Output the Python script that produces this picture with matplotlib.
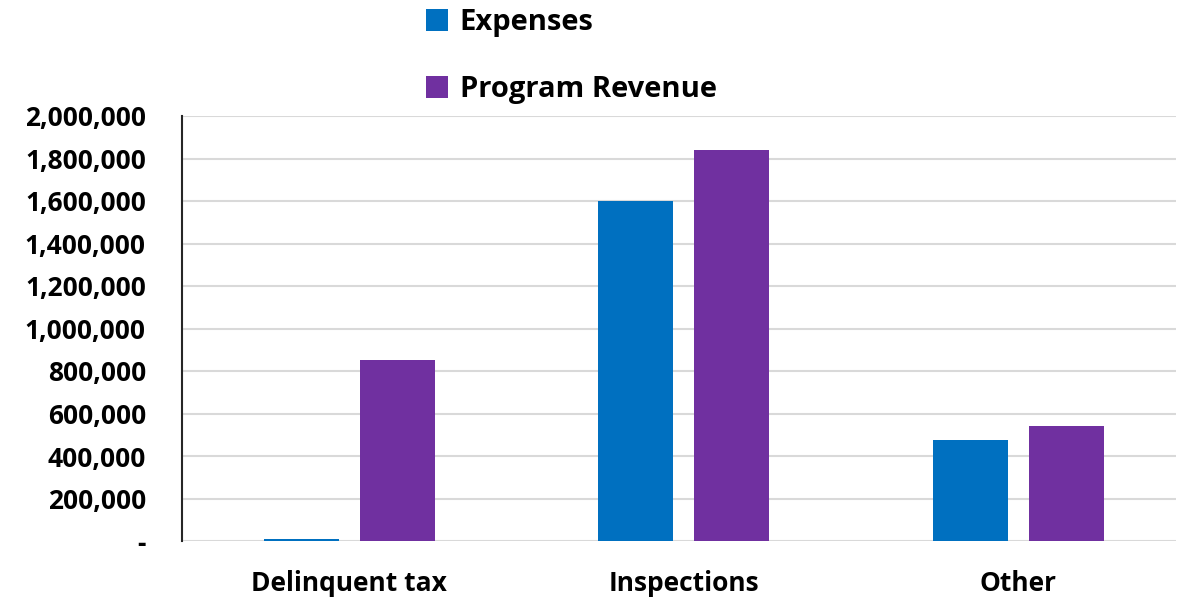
import numpy as np
import matplotlib.pyplot as plt
from matplotlib.ticker import FuncFormatter

categories = ["Delinquent tax", "Inspections", "Other"]
expenses = [8000, 1600000, 475000]
program_revenue = [850000, 1840000, 540000]
series_names = ["Expenses", "Program Revenue"]
colors = ["#0070C0", "#7030A0"]

plt.rcParams['font.family'] = ['Open Sans', 'DejaVu Sans']

fig = plt.figure(figsize=(11.78, 6.01), dpi=100)
ax = fig.add_axes([182 / 1178, 1 - 541 / 601, (1176 - 182) / 1178, (541 - 116) / 601])

x = np.arange(len(categories))
w = 0.224
off = 0.1435
b1 = ax.bar(x - off, expenses, w, color=colors[0], label=series_names[0], zorder=3)
b2 = ax.bar(x + off, program_revenue, w, color=colors[1], label=series_names[1], zorder=3)

ax.set_ylim(0, 2000000)
ax.set_xlim(-0.5, -0.5 + (1176 - 182) / 334.5)
ax.set_yticks(np.arange(0, 2000001, 200000))
ax.yaxis.set_major_formatter(FuncFormatter(lambda v, p: "-" if v == 0 else f"{int(v):,}"))
ax.set_xticks(x)
ax.set_xticklabels(categories)

ax.grid(axis='y', color='#d9d9d9', linewidth=1.5, zorder=0)
for s in ['top', 'right', 'bottom']:
    ax.spines[s].set_visible(False)
ax.spines['left'].set_color('#262626')
ax.spines['left'].set_linewidth(1.5)
ax.tick_params(axis='both', length=0, labelsize=19)
ax.tick_params(axis='y', pad=26)
ax.tick_params(axis='x', pad=21)
for lab in ax.get_xticklabels() + ax.get_yticklabels():
    lab.set_fontweight('bold')

fig.legend(handles=[b1, b2], loc='upper left', bbox_to_anchor=(400 / 1178, 1.03),
           frameon=False, prop={'size': 21, 'weight': 'bold'},
           handlelength=0.75, handleheight=0.75, handletextpad=0.4, labelspacing=1.3)

fig.savefig("out.png", dpi=100)
